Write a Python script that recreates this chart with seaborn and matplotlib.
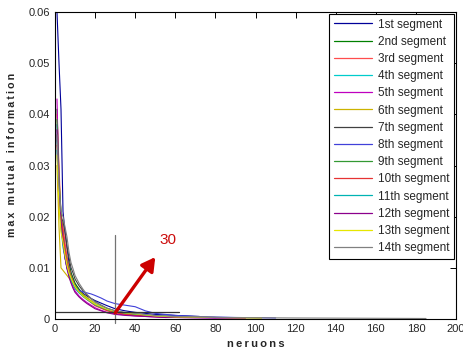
import matplotlib
matplotlib.use("Agg")
import matplotlib.pyplot as plt
import seaborn as sns
import pandas as pd

# ---- data ----
labels = ["1st segment", "2nd segment", "3rd segment", "4th segment", "5th segment",
          "6th segment", "7th segment", "8th segment", "9th segment", "10th segment",
          "11th segment", "12th segment", "13th segment", "14th segment"]

x_head = [1, 2, 3, 4, 5, 6, 7, 8, 9, 10, 12, 14, 16, 18, 20, 23, 26, 30, 35, 40, 45, 50, 55, 60]

seg01 = [0.060, 0.050, 0.041, 0.021, 0.017, 0.014, 0.011, 0.009, 0.0078, 0.0068, 0.0058, 0.0050,
         0.0045, 0.0040, 0.0036, 0.0031, 0.0026, 0.0020, 0.0016, 0.0013, 0.0011, 0.0009, 0.0008, 0.0007]
seg02 = [0.041, 0.028, 0.020, 0.017, 0.014, 0.012, 0.0105, 0.009, 0.008, 0.007, 0.0058, 0.0048,
         0.0040, 0.0034, 0.0028, 0.0022, 0.0018, 0.0014, 0.0011, 0.0009, 0.0007, 0.0006, 0.0005, 0.0004]
seg03 = [0.040, 0.030, 0.020, 0.018, 0.015, 0.012, 0.010, 0.0085, 0.0075, 0.0065, 0.0055, 0.0046,
         0.0040, 0.0034, 0.0029, 0.0023, 0.0018, 0.0013, 0.0010, 0.0008, 0.0006, 0.0005, 0.0004, 0.0003]
seg04 = [0.035, 0.025, 0.019, 0.016, 0.013, 0.011, 0.009, 0.008, 0.007, 0.006, 0.0052, 0.0045,
         0.0040, 0.0035, 0.0030, 0.0025, 0.0020, 0.0015, 0.0012, 0.0010, 0.0008, 0.0006, 0.0005, 0.0004]
seg05 = [0.043, 0.026, 0.019, 0.015, 0.012, 0.010, 0.0085, 0.0072, 0.0063, 0.0055, 0.0045, 0.0038,
         0.0032, 0.0027, 0.0022, 0.0017, 0.0013, 0.0010, 0.0008, 0.0006, 0.0005, 0.0004, 0.0003, 0.0003]
seg06 = [0.030, 0.018, 0.010, 0.0095, 0.009, 0.0085, 0.008, 0.0075, 0.007, 0.0065, 0.0055, 0.0048,
         0.0042, 0.0036, 0.0030, 0.0024, 0.0019, 0.0014, 0.0011, 0.0009, 0.0007, 0.0006, 0.0005, 0.0004]
seg07 = [0.036, 0.025, 0.020, 0.019, 0.017, 0.014, 0.012, 0.010, 0.009, 0.0078, 0.0065, 0.0055,
         0.0047, 0.0040, 0.0034, 0.0027, 0.0021, 0.0016, 0.0012, 0.0010, 0.0008, 0.0006, 0.0005, 0.0004]
seg08 = [0.038, 0.024, 0.018, 0.015, 0.012, 0.010, 0.0088, 0.0078, 0.0070, 0.0062, 0.0056, 0.0053,
         0.0051, 0.0049, 0.0046, 0.0041, 0.0035, 0.0030, 0.0027, 0.0024, 0.0016, 0.0011, 0.0009, 0.0007]
seg09 = [0.039, 0.027, 0.021, 0.016, 0.013, 0.011, 0.0095, 0.0082, 0.0072, 0.0064, 0.0054, 0.0046,
         0.0039, 0.0033, 0.0028, 0.0023, 0.0018, 0.0014, 0.0011, 0.0009, 0.0007, 0.0006, 0.0005, 0.0004]
seg10 = [0.034, 0.022, 0.020, 0.017, 0.0135, 0.011, 0.0092, 0.008, 0.007, 0.0062, 0.0052, 0.0044,
         0.0038, 0.0032, 0.0026, 0.0021, 0.0016, 0.0012, 0.0009, 0.0007, 0.0006, 0.0005, 0.0004, 0.0003]
seg11 = [0.033, 0.024, 0.018, 0.014, 0.012, 0.010, 0.0088, 0.0076, 0.0068, 0.006, 0.0051, 0.0044,
         0.0038, 0.0033, 0.0028, 0.0023, 0.0019, 0.0015, 0.0012, 0.0010, 0.0008, 0.0006, 0.0005, 0.0004]
seg12 = [0.037, 0.025, 0.019, 0.015, 0.012, 0.0098, 0.0082, 0.007, 0.006, 0.0052, 0.0043, 0.0036,
         0.0030, 0.0025, 0.0020, 0.0016, 0.0012, 0.0009, 0.0007, 0.0006, 0.0005, 0.0004, 0.0003, 0.0003]
seg13 = [0.032, 0.022, 0.017, 0.015, 0.0125, 0.0105, 0.009, 0.008, 0.0071, 0.0063, 0.0053, 0.0045,
         0.0039, 0.0034, 0.0029, 0.0024, 0.0019, 0.0015, 0.0012, 0.0010, 0.0008, 0.0006, 0.0005, 0.0004]
seg14 = [0.036, 0.026, 0.021, 0.020, 0.018, 0.016, 0.013, 0.011, 0.0098, 0.0085, 0.0070, 0.0058,
         0.0048, 0.0040, 0.0033, 0.0027, 0.0021, 0.0016, 0.0013, 0.0011, 0.0009, 0.0007, 0.0006, 0.0005]

# tails beyond x = 60 (x values, y values)
tail_x = [[72], [65], [], [70], [80, 95], [80, 103], [80], [70, 90, 110], [62], [], [65], [80, 95],
          [80, 103], [80, 120, 185]]
tail_y = [[0.0005], [0.0003], [], [0.0003], [0.0002, 0.0002], [0.0003, 0.0002], [0.0003],
          [0.0005, 0.0003, 0.0002], [0.0003], [], [0.0003], [0.0002, 0.0002], [0.0003, 0.0002],
          [0.0003, 0.0002, 0.0001]]

head_y = [seg01, seg02, seg03, seg04, seg05, seg06, seg07, seg08, seg09, seg10, seg11, seg12, seg13, seg14]

colors = [(0.0, 0.0, 0.6), (0.0, 0.5, 0.0), (1.0, 0.3, 0.3), (0.0, 0.8, 0.8), (0.75, 0.0, 0.75),
          (0.8, 0.7, 0.0), (0.25, 0.25, 0.25), (0.25, 0.25, 0.85), (0.2, 0.6, 0.2), (0.9, 0.2, 0.2),
          (0.0, 0.7, 0.7), (0.55, 0.0, 0.55), (0.9, 0.9, 0.0), (0.5, 0.5, 0.5)]

cut_x = 30
hline_y = 0.0014
hline_end = 62
vline_bottom = -0.0008
vline_top = 0.0165
arrow_start = (30, 0.0012)
arrow_end = (50, 0.0121)
note_text = "30"
note_pos = (52, 0.0147)
x_label = "neruons"
y_label = "max mutual information"

rows = []
for lab, ys, tx, ty in zip(labels, head_y, tail_x, tail_y):
    for xv, yv in zip(x_head + tx, ys + ty):
        rows.append({"neurons": xv, "mi": yv, "segment": lab})
df = pd.DataFrame(rows)

# ---- plot ----
sns.set_style("white")
plt.rcParams["font.family"] = ["Liberation Sans", "DejaVu Sans"]

fig = plt.figure(figsize=(4.64, 3.53), dpi=100)
ax = fig.add_axes([0.1185, 0.0963, 0.8645, 0.8697])

sns.lineplot(data=df, x="neurons", y="mi", hue="segment", hue_order=labels,
             palette=colors, sort=False, estimator=None, linewidth=0.8, ax=ax, legend=True)

ax.plot([cut_x, cut_x], [vline_bottom, vline_top], color=(0.45, 0.45, 0.45), linewidth=0.9,
        clip_on=False)
ax.plot([0, hline_end], [hline_y, hline_y], color=(0.2, 0.2, 0.2), linewidth=0.9)
ax.annotate("", xy=arrow_end, xytext=arrow_start,
            arrowprops=dict(arrowstyle="-|>,head_length=0.8,head_width=0.45", color=(0.8, 0.0, 0.0),
                            lw=2.4, shrinkA=0, shrinkB=0))
ax.text(note_pos[0], note_pos[1], note_text, color=(0.8, 0.05, 0.05), fontsize=11)

ax.set_xlim(0, 200)
ax.set_ylim(0, 0.06)
ax.set_xticks(range(0, 201, 20))
ax.set_yticks([0, 0.01, 0.02, 0.03, 0.04, 0.05, 0.06])
ax.set_yticklabels(["0", "0.01", "0.02", "0.03", "0.04", "0.05", "0.06"])
ax.tick_params(direction="in", top=True, right=True, labelsize=8, length=4, width=0.7,
               colors="black", labelcolor=(0.15, 0.15, 0.15))
for s in ax.spines.values():
    s.set_color("black")
    s.set_linewidth(0.8)
ax.set_xlabel("\u2009".join(x_label), fontsize=8, fontweight="bold", labelpad=4)
ax.set_ylabel("\u2009".join(y_label), fontsize=7.6, fontweight="bold", labelpad=7)
ax.yaxis.set_label_coords(-0.095, 0.535)

handles, labs = ax.get_legend_handles_labels()
leg = ax.legend(handles, labs, loc="upper right", bbox_to_anchor=(0.995, 0.994), fontsize=8.5,
                frameon=True, fancybox=False, edgecolor="black", framealpha=1,
                handlelength=3.2, handletextpad=0.5, labelspacing=0.44, borderpad=0.4,
                borderaxespad=0)
leg.get_frame().set_linewidth(0.8)
for line in leg.get_lines():
    line.set_linewidth(0.9)

fig.savefig("out.png", dpi=100)
